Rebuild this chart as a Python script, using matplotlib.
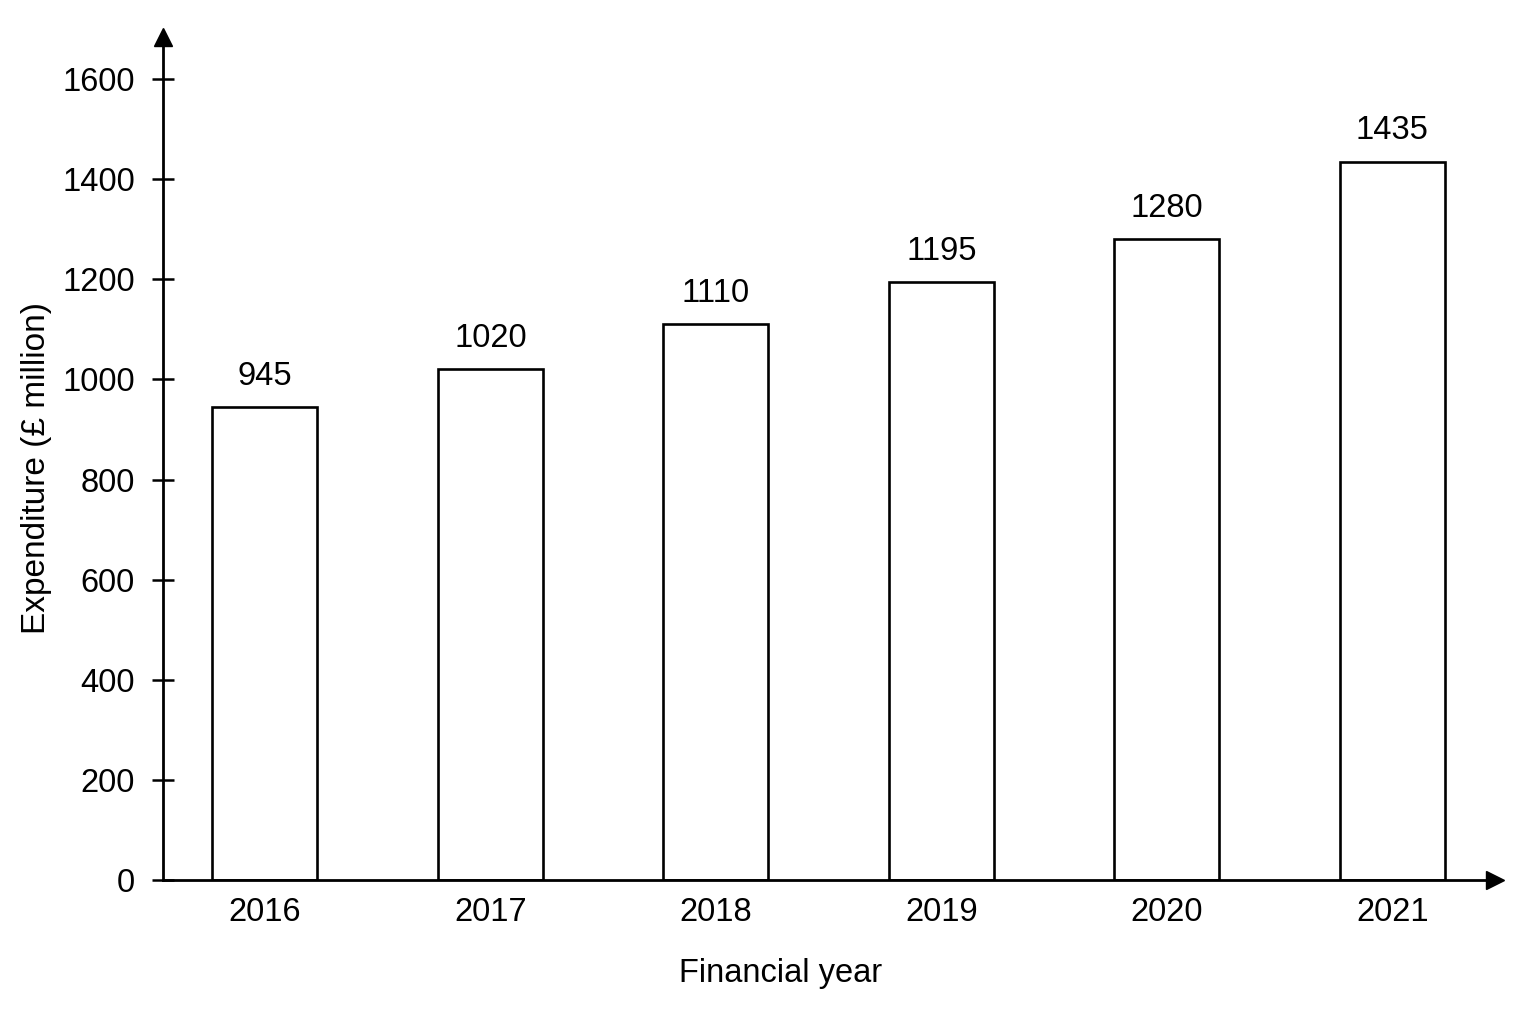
import matplotlib
matplotlib.use("Agg")
import matplotlib.pyplot as plt

years = ["2016", "2017", "2018", "2019", "2020", "2021"]
expenditure = [945, 1020, 1110, 1195, 1280, 1435]
yticks = [0, 200, 400, 600, 800, 1000, 1200, 1400, 1600]
xlabel = "Financial year"
ylabel = "Expenditure (£ million)"

plt.rcParams['font.family'] = ['Liberation Sans', 'DejaVu Sans']

fig = plt.figure(figsize=(15.36, 10.24), dpi=100)
L, R, B, T = 163/1536, 1495/1536, (1024-880)/1024, (1024-37)/1024
ax = fig.add_axes([L, B, R-L, T-B])

x = list(range(len(years)))
bars = ax.bar(x, expenditure, width=0.465, facecolor='white', edgecolor='black', linewidth=1.9, zorder=2)
ax.bar_label(bars, labels=[str(v) for v in expenditure], padding=11, fontsize=23.5)

ax.set_xlim(-0.452, 5.455)
ax.set_ylim(0, 1684)
ax.set_xticks(x)
ax.set_xticklabels(years)
ax.set_yticks(yticks)

for s in ['top', 'right']:
    ax.spines[s].set_visible(False)
for s in ['left', 'bottom']:
    ax.spines[s].set_linewidth(2.0)
    ax.spines[s].set_zorder(3)

ax.tick_params(axis='y', direction='inout', length=16.5, width=1.8, pad=12, labelsize=23.5)
ax.tick_params(axis='x', length=0, pad=12, labelsize=23.5)

ax.plot(1, 0, ">k", markersize=13, transform=ax.transAxes, clip_on=False, zorder=4)
ax.plot(0, 1, "^k", markersize=13, transform=ax.transAxes, clip_on=False, zorder=4)

ax.set_xlabel(xlabel, fontsize=23.5)
ax.set_ylabel(ylabel, fontsize=24)
ax.xaxis.set_label_coords(0.464, -0.092)
ax.yaxis.set_label_coords(-0.083, 0.489)

fig.savefig("out.png", dpi=100, facecolor='white')
